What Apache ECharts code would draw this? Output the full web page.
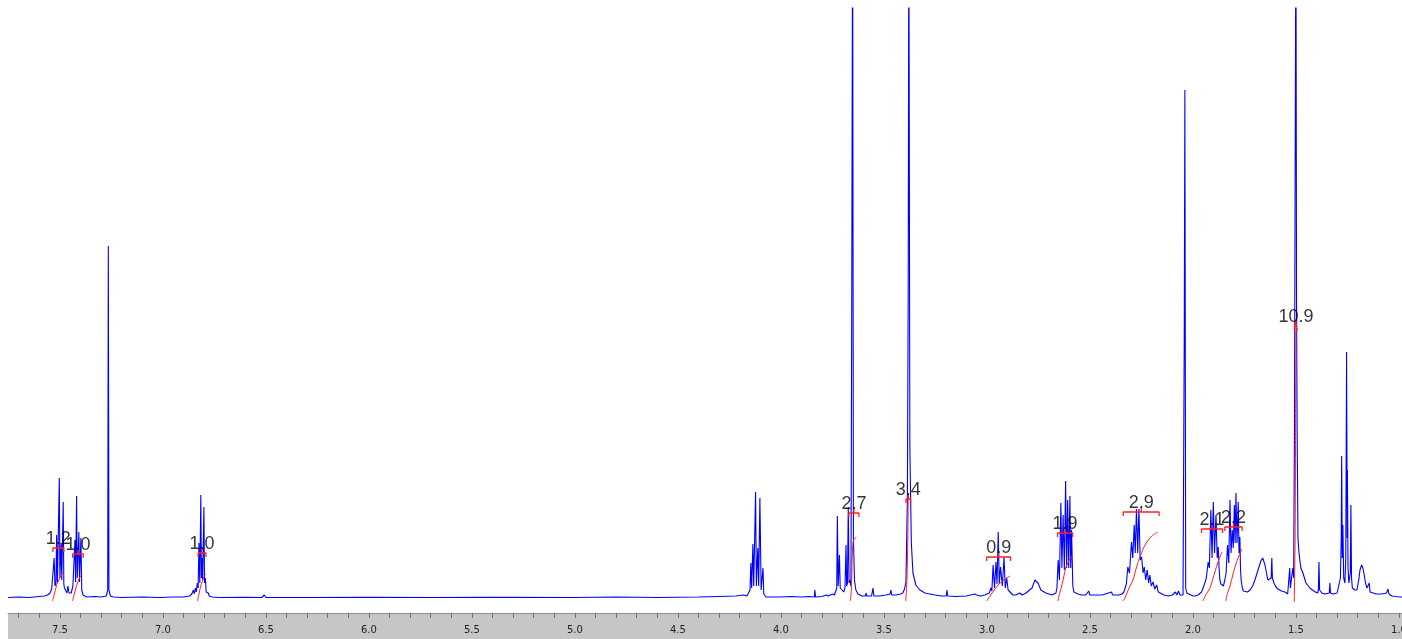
<!DOCTYPE html>
<html>
<head>
<meta charset="utf-8">
<script src="https://cdn.jsdelivr.net/npm/echarts@6.0.0/dist/echarts.min.js"></script>
<style>
  html, body { margin: 0; padding: 0; background: #ffffff; }
  #chart { width: 1402px; height: 639px; }
</style>
</head>
<body>
<div id="chart"></div>
<script>
// ---- Data (chemical shift in ppm, intensity in arbitrary units) ----
const spectrum = [
  [7.752,0.5],[7.70,1],[7.65,0.5],[7.60,1.5],[7.575,2],[7.56,3],[7.548,5],[7.540,9],
  [7.533,8],[7.528,40],[7.524,12],[7.519,15],[7.516,63],[7.512,16],[7.508,18],[7.503,120],[7.500,20],[7.497,22],
  [7.494,55],[7.491,18],[7.488,20],[7.484,96],[7.481,14],[7.478,10],
  [7.471,8],[7.466,5],[7.461,12],[7.456,5],[7.451,6],[7.445,5],
  [7.437,12],[7.430,14],[7.427,58],[7.424,16],[7.421,18],[7.419,102],[7.416,20],[7.413,22],[7.408,66],[7.405,16],[7.403,18],
  [7.398,60],[7.394,8],[7.388,3],[7.383,2],[7.37,1],[7.33,1.5],[7.30,1],[7.275,2],[7.268,8],[7.265,352],[7.262,8],
  [7.255,2],[7.24,1],[7.20,0.5],[7.10,1],[7.02,0.5],[7.015,2.5],[7.01,0.5],[6.95,1],
  [6.90,1],[6.87,2],[6.860,4],[6.852,8],[6.848,4],[6.842,10],[6.838,6],[6.833,15],[6.829,10],[6.825,55],[6.821,15],
  [6.816,103],[6.813,20],[6.811,40],[6.807,18],[6.801,91],[6.798,15],[6.794,20],[6.790,6],[6.785,4],[6.78,5],
  [6.775,2],[6.76,1],[6.73,0.5],[6.60,0.8],[6.52,0.5],[6.508,3],[6.50,0.5],[6.3,0.5],[6.0,0.8],[5.7,0.5],
  [5.4,0.8],[5.0,0.5],[4.8,1],[4.6,0.5],[4.4,1],[4.3,1.5],[4.22,2],[4.18,3],[4.165,2],
  [4.160,2],[4.150,8],[4.146,35],[4.142,10],[4.136,54],[4.132,12],[4.123,106],[4.119,12],[4.112,50],[4.108,12],
  [4.102,100],[4.096,8],[4.087,30],[4.083,4],[4.073,1],
  [4.00,1],[3.95,1.5],[3.90,1],[3.86,1.5],[3.838,1],[3.835,8],[3.832,1],[3.80,1.5],[3.78,3],[3.77,2],[3.75,4],
  [3.74,3],[3.733,5],[3.729,10],[3.726,82],[3.722,12],[3.718,14],[3.716,43],[3.712,10],[3.704,8],[3.695,6],
  [3.689,10],[3.684,53],[3.681,12],[3.677,15],[3.673,91],[3.669,15],[3.666,18],[3.660,12],[3.656,306],[3.652,700],
  [3.648,60],[3.643,18],[3.636,8],[3.626,4],[3.607,2],[3.590,2],[3.587,5],[3.583,2],[3.560,2],[3.553,10],[3.549,2],
  [3.52,2],[3.49,3],[3.47,4],[3.466,8],[3.462,3],[3.44,3],[3.42,4],[3.408,5],[3.400,9],[3.393,16],[3.386,100],
  [3.382,309],[3.379,700],[3.374,150],[3.367,56],[3.359,25],[3.345,13],[3.325,8],[3.301,5],[3.252,3],[3.22,2],
  [3.197,2],[3.194,8],[3.190,2],[3.15,1.5],[3.10,2],[3.08,3],[3.06,4],[3.05,3],[3.03,2],[3.01,3],
  [3.00,4],[2.995,6],[2.988,5],[2.981,10],[2.976,7],[2.970,33],[2.963,10],[2.956,36],[2.951,14],[2.945,66],
  [2.940,14],[2.934,31],[2.925,12],[2.917,41],[2.911,10],[2.904,20],[2.897,8],[2.888,8],[2.874,3],[2.86,3],
  [2.84,5],[2.83,3],[2.81,5],[2.801,6],[2.781,10],[2.767,18],[2.762,20],[2.752,15],[2.738,8],[2.714,5],
  [2.684,3],[2.675,3],
  [2.665,5],[2.660,10],[2.654,38],[2.648,18],[2.641,95],[2.636,30],[2.630,83],[2.624,28],[2.618,117],[2.613,30],
  [2.608,98],[2.603,30],[2.597,102],[2.593,30],[2.589,68],[2.583,12],[2.578,6],[2.558,4],[2.54,3],[2.52,3],
  [2.506,7],[2.50,3],[2.46,3],[2.44,3],[2.395,6],[2.39,3],[2.36,3],[2.345,4],
  [2.335,6],[2.330,8],[2.323,14],[2.316,31],[2.308,25],[2.298,56],[2.292,40],[2.285,73],[2.280,45],[2.274,89],
  [2.268,45],[2.262,89],[2.256,38],[2.249,41],[2.242,25],[2.236,31],[2.229,18],[2.222,28],[2.215,15],[2.209,23],
  [2.202,12],[2.194,16],[2.185,9],[2.176,13],[2.168,6],[2.160,4],[2.14,3],[2.12,2],[2.10,3],[2.085,6],[2.078,3],
  [2.07,7],[2.063,3],[2.055,5],[2.048,3],[2.044,5],[2.042,262],[2.039,508],[2.035,10],[2.03,5],[2.024,4],[2.00,2],
  [1.990,2],[1.975,3],[1.966,4],[1.958,6],
  [1.951,8],[1.942,15],[1.935,20],[1.926,36],[1.920,30],[1.913,88],[1.907,40],[1.901,96],[1.895,45],[1.888,83],
  [1.882,40],[1.877,51],[1.873,30],[1.869,18],[1.864,14],[1.859,12],[1.852,12],[1.845,18],
  [1.839,25],[1.832,53],[1.826,35],[1.820,98],[1.815,45],[1.809,68],[1.804,50],[1.799,93],[1.795,55],[1.791,105],
  [1.786,55],[1.780,96],[1.776,45],[1.772,61],[1.769,30],[1.766,18],[1.760,10],[1.755,7],[1.748,6],[1.735,6],
  [1.723,8],[1.710,12],[1.699,18],[1.684,28],[1.670,37],[1.661,40],[1.650,33],[1.640,22],[1.636,18],[1.628,16],
  [1.620,20],[1.617,40],[1.614,20],[1.607,15],[1.597,11],[1.587,9],[1.570,7],[1.553,6],[1.540,4],[1.534,3],
  [1.530,30],[1.527,10],[1.522,12],[1.519,10],[1.515,30],[1.511,20],[1.507,170],[1.505,326],[1.503,478],[1.500,700],
  [1.497,300],[1.494,165],[1.490,60],[1.485,45],[1.476,30],[1.466,25],[1.451,15],[1.432,10],[1.420,8],[1.405,6],
  [1.395,5],[1.391,8],[1.388,36],[1.385,8],[1.374,5],[1.360,4],[1.338,5],[1.335,15],[1.332,5],[1.32,4],[1.30,5],
  [1.291,7],[1.284,20],[1.280,60],[1.278,142],[1.275,40],[1.272,73],[1.268,20],[1.262,15],[1.258,40],[1.254,246],
  [1.251,60],[1.250,128],[1.247,30],[1.243,15],[1.236,25],[1.233,93],[1.230,20],[1.226,10],[1.214,8],[1.204,8],
  [1.195,18],[1.189,28],[1.181,33],[1.175,30],[1.170,25],[1.162,15],[1.155,10],[1.149,8],[1.144,15],[1.140,6],
  [1.131,5],[1.11,4],[1.092,4],[1.082,4],[1.078,6],[1.074,3],[1.060,5],[1.053,9],[1.048,4],[1.034,2],[1.015,1.5],
  [0.995,1],[0.985,1]
];

// integration curves
const integralCurves = [
  [[7.536,-3],[7.527,4],[7.517,12],[7.505,18],[7.494,23],[7.483,26]],
  [[7.439,-3],[7.430,4],[7.420,12],[7.410,18],[7.400,22],[7.391,24]],
  [[6.832,-3],[6.824,5],[6.815,13],[6.806,18],[6.799,22],[6.792,24]],
  [[3.663,-3],[3.658,8],[3.654,40],[3.650,56],[3.644,59],[3.634,61]],
  [[3.394,-3],[3.388,20],[3.384,60],[3.382,100]],
  [[3.001,-3],[2.985,2],[2.965,8],[2.945,13],[2.925,17],[2.905,20],[2.888,22]],
  [[2.656,-3],[2.645,6],[2.630,18],[2.618,30],[2.605,36],[2.595,40],[2.583,42]],
  [[2.340,-3],[2.330,0],[2.310,10],[2.291,18],[2.275,30],[2.257,41],[2.240,50],[2.223,56],[2.200,62],[2.170,66]],
  [[1.952,-3],[1.935,4],[1.917,10],[1.905,18],[1.893,26],[1.880,35],[1.869,41],[1.859,46]],
  [[1.841,-3],[1.830,6],[1.820,12],[1.804,25],[1.788,36],[1.775,43],[1.761,49]],
  [[1.508,-4],[1.504,60],[1.502,150],[1.500,272]]
];

// integration brackets: [left ppm, right ppm, height]
const integralRanges = [
  [7.534,7.481,50],[7.438,7.387,44],[6.829,6.791,45],[3.670,3.621,85],[3.393,3.370,99],
  [3.001,2.885,41],[2.657,2.584,65],[2.338,2.164,86],[1.958,1.856,69],[1.845,1.761,71],[1.507,1.493,272]
];
const integralValues = ['1.2','1.0','1.0','2.7','3.4','0.9','1.9','2.9','2.1','2.2','10.9'];

// axis ticks
const majorTicks = [7.5,7.0,6.5,6.0,5.5,5.0,4.5,4.0,3.5,3.0,2.5,2.0,1.5,1.0];
const minorTicks = [7.7,7.6,7.5,7.4,7.3,7.2,7.1,7.0,6.9,6.8,6.7,6.6,6.5,6.4,6.3,6.2,6.1,6.0,5.9,5.8,5.7,5.6,5.5,
  5.4,5.3,5.2,5.1,5.0,4.9,4.8,4.7,4.6,4.5,4.4,4.3,4.2,4.1,4.0,3.9,3.8,3.7,3.6,3.5,3.4,3.3,3.2,3.1,3.0,
  2.9,2.8,2.7,2.6,2.5,2.4,2.3,2.2,2.1,2.0,1.9,1.8,1.7,1.6,1.5,1.4,1.3,1.2,1.1,1.0];

// ---- Chart ----
const chart = echarts.init(document.getElementById('chart'), null, { renderer: 'canvas', width: 1402, height: 639 });

const RED = '#ff2020';
const series = [];
series.push({
  type: 'line', data: spectrum, symbol: 'none', sampling: 'none', z: 2,
  lineStyle: { color: '#0000ff', width: 1.1 }, clip: true, animation: false, silent: true
});
integralCurves.forEach(c => series.push({
  type: 'line', data: c, symbol: 'none', smooth: 0.3, z: 3, clip: true, silent: true,
  lineStyle: { color: RED, width: 1 }, animation: false
}));
integralRanges.forEach(r => {
  const L = r[0], R = r[1], h = r[2], M = (L + R) / 2;
  series.push({
    type: 'line', symbol: 'none', z: 3, silent: true, animation: false,
    lineStyle: { color: RED, width: 1.3 },
    data: [[L, h - 4], [L, h], [M, h], [M, h + 5], [M, h], [R, h], [R, h - 4]]
  });
});
series.push({
  type: 'scatter', symbolSize: 0, z: 5, silent: true, animation: false,
  data: integralRanges.map((r, i) => ({ value: [(r[0] + r[1]) / 2, r[2]], name: integralValues[i] })),
  label: {
    show: true, position: 'top', distance: 0,
    formatter: p => p.name,
    fontFamily: 'Liberation Sans, Arial, sans-serif', fontSize: 18, color: '#000000'
  }
});

chart.setOption({
  animation: false,
  backgroundColor: '#ffffff',
  grid: { left: 8, top: 8, width: 1394, height: 598, containLabel: false, outerBoundsMode: 'none' },
  xAxis: {
    type: 'value', inverse: true, min: 0.985, max: 7.752, offset: 7, z: 10,
    axisLine: { show: true, onZero: false, lineStyle: { color: '#8f8f8f', width: 1 } },
    axisTick: { show: true, customValues: minorTicks, length: 5, inside: false,
      lineStyle: { color: '#6f6f6f', width: 1 } },
    axisLabel: { customValues: majorTicks, formatter: v => v.toFixed(1), fontSize: 10,
      fontFamily: 'DejaVu Sans, sans-serif', color: '#222222', margin: 12 },
    splitLine: { show: false }, minorTick: { show: false }
  },
  yAxis: { type: 'value', min: -8, max: 590, show: false },
  graphic: {
    elements: [{
      type: 'rect', z: -10, silent: true,
      shape: { x: 8, y: 613, width: 1394, height: 26 },
      style: { fill: '#c6c6c6' }
    }]
  },
  series: series
});
</script>
</body>
</html>
